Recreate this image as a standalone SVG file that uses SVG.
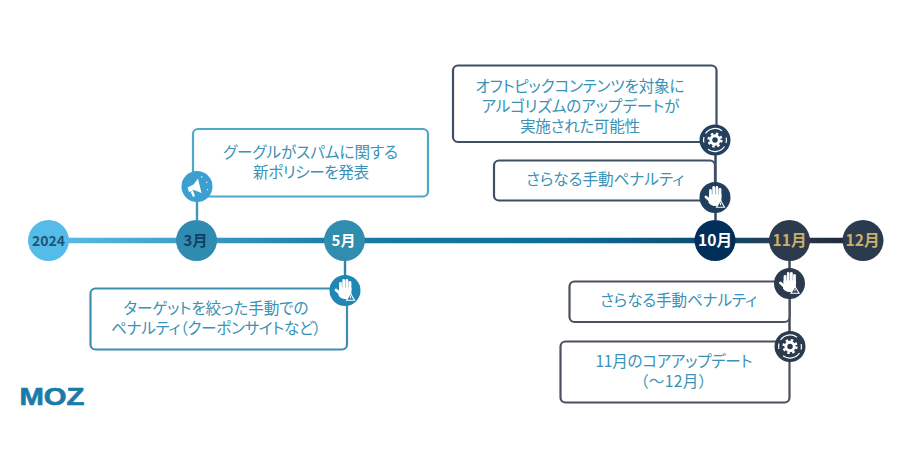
<svg xmlns="http://www.w3.org/2000/svg" xmlns:xlink="http://www.w3.org/1999/xlink" width="900" height="473" viewBox="0 0 900 473">
<style>
.t{font-family:"Noto Sans CJK JP","Noto Sans",sans-serif;font-size:15.6px;fill:#3a92b6;text-anchor:middle;font-feature-settings:"palt"}
.m{font-family:"Noto Sans CJK JP","Noto Sans",sans-serif;font-size:15px;font-weight:700;text-anchor:middle}
.y{font-size:14px}
.w{font-size:15.6px}
.box{fill:#fff;stroke-width:2.2}
.stem{fill:none;stroke-width:2.4}
.gold{fill:#c8b06c}
</style>
<defs>
<linearGradient id="tl" gradientUnits="userSpaceOnUse" x1="48" y1="0" x2="863" y2="0">
<stop offset="0" stop-color="#5cbde6"/>
<stop offset="0.18" stop-color="#3c9cc4"/>
<stop offset="0.36" stop-color="#1b7ba5"/>
<stop offset="0.62" stop-color="#0f6e98"/>
<stop offset="0.82" stop-color="#0c4a70"/>
<stop offset="0.9" stop-color="#2c3a4e"/>
<stop offset="1" stop-color="#1e2638"/>
</linearGradient>
<g id="hand">
<g stroke="#fff" stroke-width="2.8" stroke-linecap="round" fill="none">
<path d="M-4.500 -2V-7M-1.300 -2V-10M1.900 -2V-10M5 0V-8"/>
<path d="M-4 4L-9 -.5"/>
</g>
<path d="M-6 -3H6.400V3C6.400 6 4 8.500 0 8.500C-3 8.500 -5 7 -6.500 5Z" fill="#fff"/>
<path d="M5.500 3L9.500 9.800H1.500Z" fill="currentColor" stroke="#fff" stroke-width="1.100"/>
<path d="M5.500 5.300V7.800" stroke="#fff" stroke-width="1"/>
</g>
<g id="gear" fill="none" stroke="#fff">
<circle r="4.200" stroke-width="2.900"/>
<circle r="6.400" stroke-width="2.400" stroke-dasharray="2.500 2.526"/>
<path d="M-9.500 -6.500A11.500 11.500 0 0 1 7 -9.200M9.500 6.500A11.500 11.500 0 0 1 -7 9.200" stroke-width="1.200"/>
<path d="M-11.200 2.500A11.500 11.500 0 0 1 -11 -3M11.200 -2.500A11.500 11.500 0 0 1 11 3" stroke-width="1.200"/>
</g>
</defs>
<rect width="900" height="473" fill="#fff"/>
<g id="connectors">
<line x1="48" y1="240.500" x2="863" y2="240.500" stroke="url(#tl)" stroke-width="5.500"/>
<line class="stem" x1="197" y1="220" x2="197" y2="200" stroke="#3f97bd"/>
<line class="stem" x1="345" y1="260" x2="345" y2="278" stroke="#2f86a8"/>
<line class="stem" x1="715.500" y1="220" x2="715.500" y2="150" stroke="#2f4258"/>
<line class="stem" x1="789.500" y1="260" x2="789.500" y2="340" stroke="#3a4352"/>
</g>
<g id="box-policy">
<rect class="box" x="193" y="129" width="235" height="67.500" rx="5" stroke="#4fa7ca"/>
<text class="t" x="310.500" y="157.500" textLength="175">グーグルがスパムに関する</text>
<text class="t" x="311" y="177.500" textLength="116">新ポリシーを発表</text>
</g>
<g id="box-targeted">
<rect class="box" x="90.500" y="288.500" width="256.500" height="61" rx="5" stroke="#3c8fb0"/>
<text class="t" x="216" y="313.500" textLength="185">ターゲットを絞った手動での</text>
<text class="t" x="216" y="333.500" textLength="210">ペナルティ（クーポンサイトなど）</text>
</g>
<g id="box-offtopic">
<rect class="box" x="453" y="65.500" width="263.500" height="76.500" rx="5" stroke="#3d5063"/>
<text class="t" x="580" y="91.500" textLength="209">オフトピックコンテンツを対象に</text>
<text class="t" x="580.500" y="111.500" textLength="198">アルゴリズムのアップデートが</text>
<text class="t" x="580" y="131.500" textLength="120">実施された可能性</text>
</g>
<g id="box-manual-oct">
<rect class="box" x="494" y="160.500" width="221" height="40" rx="5" stroke="#3d5063"/>
<text class="t" x="605" y="184.500" textLength="158">さらなる手動ペナルティ</text>
</g>
<g id="box-manual-nov">
<rect class="box" x="569.500" y="281.500" width="220" height="40.500" rx="5" stroke="#4a505c"/>
<text class="t" x="678.500" y="306" textLength="157">さらなる手動ペナルティ</text>
</g>
<g id="box-core">
<rect class="box" x="560.500" y="341.500" width="229" height="61" rx="5" stroke="#4a505c"/>
<text class="t" x="674" y="366.500" textLength="157">11月のコアアップデート</text>
<text class="t" x="673.500" y="386.500" textLength="66">（～12月）</text>
</g>
<g id="icon-megaphone">
<circle cx="197" cy="186.500" r="15.500" fill="#3ba0cf"/>
<g transform="translate(197 186.500)" fill="#fff">
<path d="M-9.500 1L-8 5.500L-3 3.500L4.500 6.500L1 -8L-3.500 -2Z"/>
<path d="M-6.500 5L-4 10.500L-2 9.500L-3.800 4.500Z"/>
<path d="M4 -10l1 -.5.500 1.200-1 .5zM9 -4.500l1.200-.6.400 1-1.200.6zM10 2.500l1.200.2-.2 1-1.200-.2z"/>
</g>
</g>
<g id="icon-hand-may" color="#1f86b5">
<circle cx="345" cy="290.500" r="15.500" fill="#1f86b5"/>
<use xlink:href="#hand" href="#hand" x="345" y="290.500"/>
</g>
<g id="icon-gear-oct">
<circle cx="715" cy="140" r="15.500" fill="#23405c"/>
<use xlink:href="#gear" href="#gear" x="715" y="140"/>
</g>
<g id="icon-hand-oct" color="#1f3f5c">
<circle cx="715" cy="197.500" r="15.500" fill="#1f3f5c"/>
<use xlink:href="#hand" href="#hand" x="715" y="197.500"/>
</g>
<g id="icon-hand-nov" color="#2c3a4e">
<circle cx="789.500" cy="283.500" r="15.500" fill="#2c3a4e"/>
<use xlink:href="#hand" href="#hand" x="789.500" y="283.500"/>
</g>
<g id="icon-gear-nov">
<circle cx="790" cy="346.500" r="15.500" fill="#2c3a4e"/>
<use xlink:href="#gear" href="#gear" x="790" y="346.500"/>
</g>
<g id="node-2024">
<circle cx="48.500" cy="240.500" r="20.500" fill="#55bbe9"/>
<text class="m y" x="48.500" y="245.500" fill="#1d5578">2024</text>
</g>
<g id="node-mar">
<circle cx="196.500" cy="240.500" r="20.500" fill="#2f8bb0"/>
<text class="m" x="195.500" y="245.500" fill="#0f3f63">3月</text>
</g>
<g id="node-may">
<circle cx="344.500" cy="240.500" r="20.500" fill="#318dae"/>
<text class="m" x="343.500" y="245.500" fill="#fff">5月</text>
</g>
<g id="node-oct">
<circle cx="715" cy="240.500" r="20.500" fill="#00305a"/>
<text class="m w" x="715" y="245.500" fill="#fff">10月</text>
</g>
<g id="node-nov">
<circle cx="789.500" cy="240.500" r="20.500" fill="#2c3a4e"/>
<text class="m w gold" x="789.500" y="245.500">11月</text>
</g>
<g id="node-dec">
<circle cx="863" cy="240.500" r="20.500" fill="#2c3a4e"/>
<text class="m w gold" x="862.500" y="245.500">12月</text>
</g>
<g id="logo">
<text x="19.500" y="405" font-family="Liberation Sans, sans-serif" font-weight="700" font-size="23" fill="#1a7ba8" textLength="65" lengthAdjust="spacingAndGlyphs" stroke="#1a7ba8" stroke-width="0.6">MOZ</text>
</g>
</svg>
